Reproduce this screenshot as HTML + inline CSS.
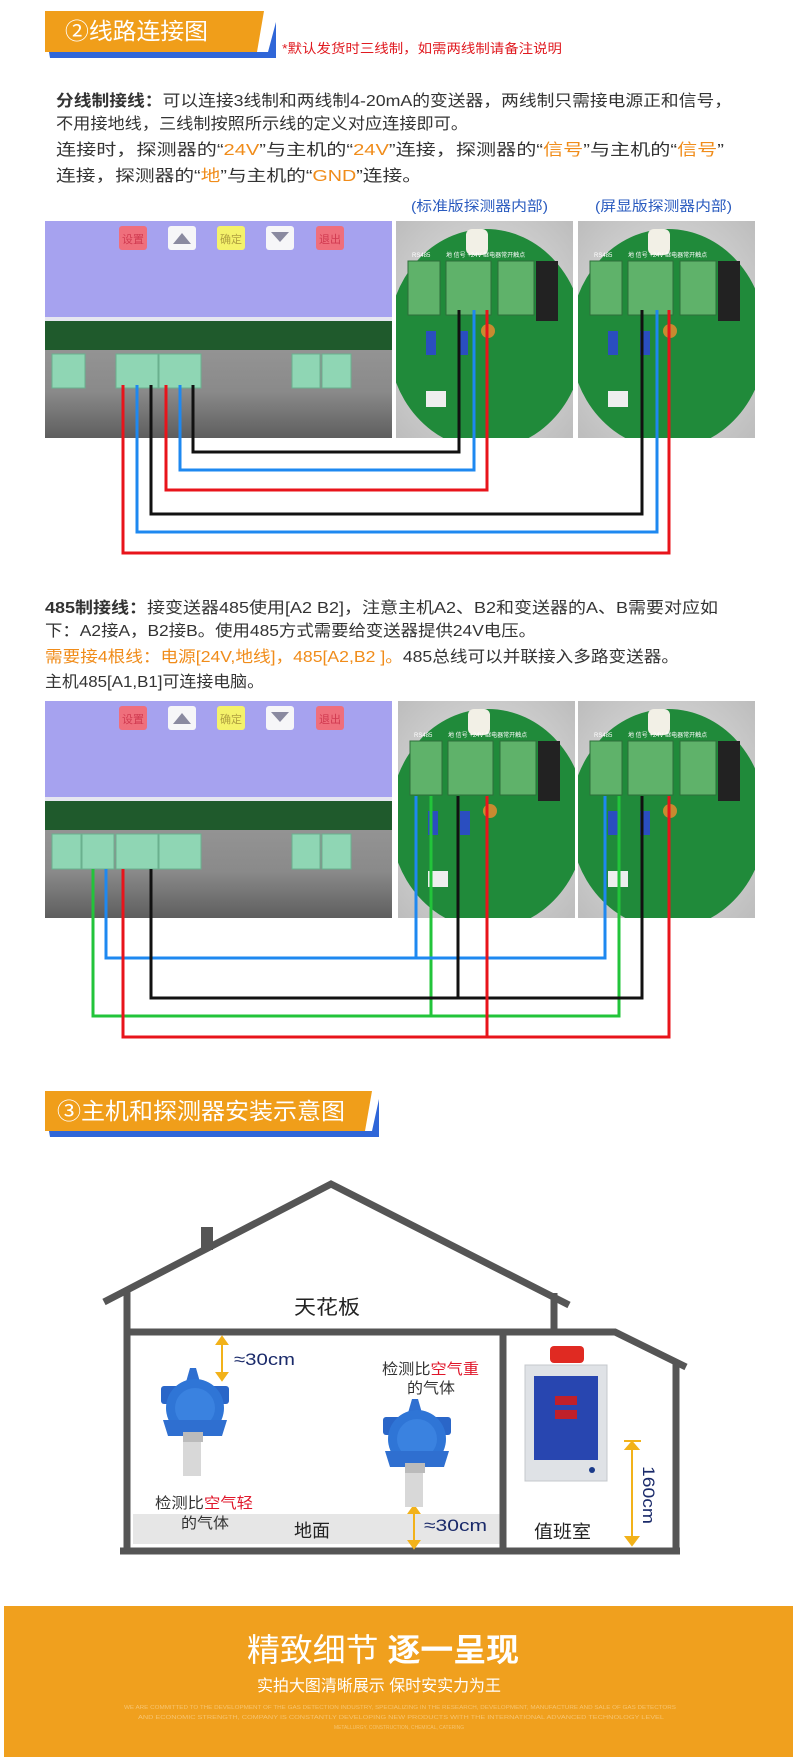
<!DOCTYPE html>
<html><head><meta charset="utf-8"><style>
html,body{margin:0;padding:0;background:#fff;}
svg{display:block;font-family:"Liberation Sans","Noto Sans CJK SC",sans-serif;}
</style></head><body>
<svg width="797" height="1757" viewBox="0 0 797 1757" xmlns="http://www.w3.org/2000/svg">
<defs>
<linearGradient id="gray" x1="0" y1="0" x2="0" y2="1"><stop offset="0" stop-color="#9a9a9a"/><stop offset="0.6" stop-color="#8a8a8a"/><stop offset="1" stop-color="#5e5e5e"/></linearGradient>
<radialGradient id="bgd" cx="0.5" cy="0.5" r="0.7"><stop offset="0" stop-color="#e8e8e8"/><stop offset="1" stop-color="#bdbdbd"/></radialGradient>
<clipPath id="dclip"><rect x="0" y="0" width="177" height="217"/></clipPath>
<g id="panel">
  <rect x="45" y="0" width="347" height="96" fill="#a6a2ef"/>
  <rect x="45" y="96" width="347" height="4" fill="#e6e6f0"/>
  <rect x="45" y="100" width="347" height="117" fill="url(#gray)"/>
  <rect x="45" y="100" width="347" height="29" fill="#1f5a2c"/>
  <rect x="119" y="5" width="28" height="24" rx="3" fill="#ef6f7c"/>
  <rect x="168" y="5" width="28" height="24" rx="3" fill="#f6f6f8"/><polygon points="173,23 182,12 191,23" fill="#8a8aa0"/>
  <rect x="217" y="5" width="28" height="24" rx="3" fill="#f4f26a"/>
  <rect x="266" y="5" width="28" height="24" rx="3" fill="#f6f6f8"/><polygon points="271,11 289,11 280,21" fill="#8a8aa0"/>
  <rect x="316" y="5" width="28" height="24" rx="3" fill="#ef6f7c"/>
  <text x="122" y="22" font-size="11" fill="#d03a50">设置</text>
  <text x="220" y="22" font-size="11" fill="#b0a040">确定</text>
  <text x="319" y="22" font-size="11" fill="#d03a50">退出</text>
</g>
<g id="det">
 <g clip-path="url(#dclip)">
  <rect x="0" y="0" width="177" height="217" fill="url(#bgd)"/>
  <ellipse cx="90" cy="118" rx="98" ry="110" fill="#208a3a"/>
  <rect x="70" y="8" width="22" height="26" rx="6" fill="#f2f0e6"/>
  <rect x="140" y="40" width="22" height="60" fill="#222"/>
  <rect x="12" y="40" width="32" height="54" fill="#5fb26a" stroke="#2e6e3a"/>
  <rect x="50" y="40" width="45" height="54" fill="#5fb26a" stroke="#2e6e3a"/>
  <rect x="102" y="40" width="36" height="54" fill="#5fb26a" stroke="#2e6e3a"/>
  <rect x="30" y="110" width="10" height="24" fill="#2a4ec0"/>
  <rect x="62" y="110" width="10" height="24" fill="#2a4ec0"/>
  <circle cx="92" cy="110" r="7" fill="#c88a30"/>
  <rect x="30" y="170" width="20" height="16" fill="#eee"/>
  <text x="16" y="36" font-size="6" fill="#fff">RS485</text>
  <text x="50" y="36" font-size="6" fill="#fff">地 信号 +24V 继电器常开触点</text>
 </g>
</g>
</defs>

<polygon points="49,52 268,52 276,22 276,58 50,58" fill="#2f66d8"/>
<polygon points="45,11 264,11 257,52 45,52" fill="#f09e1a"/>
<text x="65" y="39" font-size="23" fill="#fff" textLength="143" lengthAdjust="spacingAndGlyphs">②线路连接图</text>
<text x="282" y="53" font-size="13" fill="#e01a20" textLength="280" lengthAdjust="spacingAndGlyphs">*默认发货时三线制，如需两线制请备注说明</text>

<g font-size="16" fill="#333">
<text x="56" y="106" textLength="676" lengthAdjust="spacingAndGlyphs"><tspan font-weight="bold">分线制接线：</tspan>可以连接3线制和两线制4-20mA的变送器，两线制只需接电源正和信号，</text>
<text x="56" y="129" textLength="412" lengthAdjust="spacingAndGlyphs">不用接地线，三线制按照所示线的定义对应连接即可。</text>
<text x="56" y="155" textLength="668" lengthAdjust="spacingAndGlyphs">连接时，探测器的“<tspan fill="#f08c1a">24V</tspan>”与主机的“<tspan fill="#f08c1a">24V</tspan>”连接，探测器的“<tspan fill="#f08c1a">信号</tspan>”与主机的“<tspan fill="#f08c1a">信号</tspan>”</text>
<text x="56" y="181" textLength="366" lengthAdjust="spacingAndGlyphs">连接，探测器的“<tspan fill="#f08c1a">地</tspan>”与主机的“<tspan fill="#f08c1a">GND</tspan>”连接。</text>
</g>
<text x="411" y="211" font-size="14" fill="#2a5bbf" textLength="137" lengthAdjust="spacingAndGlyphs">(标准版探测器内部)</text>
<text x="595" y="211" font-size="14" fill="#2a5bbf" textLength="137" lengthAdjust="spacingAndGlyphs">(屏显版探测器内部)</text>

<use href="#panel" y="221"/>
<g fill="#8fd6b4" stroke="#6ab08e">
<rect x="52" y="354" width="33" height="34"/><rect x="116" y="354" width="42" height="34"/><rect x="159" y="354" width="42" height="34"/><rect x="292" y="354" width="28" height="34"/><rect x="322" y="354" width="29" height="34"/>
</g>
<use href="#det" x="396" y="221"/>
<use href="#det" x="578" y="221"/>
<g fill="none" stroke-width="3">
<polyline points="123,385 123,553 669,553 669,310" stroke="#e8141b"/>
<polyline points="137,385 137,532 657,532 657,310" stroke="#1e88f0"/>
<polyline points="151,385 151,514 642,514 642,310" stroke="#111"/>
<polyline points="166,385 166,490 487,490 487,310" stroke="#e8141b"/>
<polyline points="180,385 180,470 474,470 474,310" stroke="#1e88f0"/>
<polyline points="193,385 193,452 459,452 459,310" stroke="#111"/>
</g>

<g font-size="16" fill="#333">
<text x="45" y="613" textLength="673" lengthAdjust="spacingAndGlyphs"><tspan font-weight="bold">485制接线：</tspan>接变送器485使用[A2 B2]，注意主机A2、B2和变送器的A、B需要对应如</text>
<text x="45" y="636" textLength="491" lengthAdjust="spacingAndGlyphs">下：A2接A，B2接B。使用485方式需要给变送器提供24V电压。</text>
<text x="45" y="662" textLength="634" lengthAdjust="spacingAndGlyphs"><tspan fill="#f08c1a">需要接4根线：电源[24V,地线]，485[A2,B2 ]。</tspan>485总线可以并联接入多路变送器。</text>
<text x="45" y="687" textLength="219" lengthAdjust="spacingAndGlyphs">主机485[A1,B1]可连接电脑。</text>
</g>

<use href="#panel" y="701"/>
<g fill="#8fd6b4" stroke="#6ab08e">
<rect x="52" y="834" width="29" height="35"/><rect x="82" y="834" width="32" height="35"/><rect x="116" y="834" width="42" height="35"/><rect x="159" y="834" width="42" height="35"/><rect x="292" y="834" width="28" height="35"/><rect x="322" y="834" width="29" height="35"/>
</g>
<use href="#det" x="398" y="701"/>
<use href="#det" x="578" y="701"/>
<g fill="none" stroke-width="3">
<polyline points="93,869 93,1016 619,1016 619,796" stroke="#22c43a"/>
<line x1="431" y1="796" x2="431" y2="1016" stroke="#22c43a"/>
<polyline points="106,869 106,958 605,958 605,796" stroke="#1e88f0"/>
<line x1="416" y1="796" x2="416" y2="958" stroke="#1e88f0"/>
<polyline points="151,869 151,998 642,998 642,796" stroke="#111"/>
<line x1="458" y1="796" x2="458" y2="998" stroke="#111"/>
<polyline points="123,869 123,1037 669,1037 669,796" stroke="#e8141b"/>
<line x1="487" y1="796" x2="487" y2="1037" stroke="#e8141b"/>
</g>

<polygon points="49,1131 372,1131 379,1099 379,1137 50,1137" fill="#2f66d8"/>
<polygon points="45,1091 372,1091 365,1131 45,1131" fill="#f09e1a"/>
<text x="57" y="1119" font-size="23" fill="#fff" textLength="288" lengthAdjust="spacingAndGlyphs">③主机和探测器安装示意图</text>

<polygon points="133,1514 500,1514 500,1544 133,1544" fill="#e6e6e6"/>
<g fill="none" stroke="#555" stroke-width="7">
<polyline points="104,1302 331,1184 569,1305"/>
<line x1="127" y1="1291" x2="127" y2="1551"/>
<line x1="554" y1="1293" x2="554" y2="1332"/>
<polyline points="127,1332 615,1332 686,1367"/>
<line x1="676" y1="1362" x2="676" y2="1551"/>
<line x1="503" y1="1332" x2="503" y2="1551"/>
<line x1="120" y1="1551" x2="680" y2="1551"/>
</g>
<rect x="201" y="1227" width="12" height="23" fill="#555"/>
<text x="294" y="1314" font-size="20" fill="#222" textLength="66" lengthAdjust="spacingAndGlyphs">天花板</text>

<g stroke="#f2b21a" stroke-width="2" fill="#f2b21a">
<line x1="222" y1="1341" x2="222" y2="1376"/><polygon points="217,1344 222,1337 227,1344"/><polygon points="217,1373 222,1380 227,1373"/>
<line x1="414" y1="1510" x2="414" y2="1544"/><polygon points="409,1513 414,1506 419,1513"/><polygon points="409,1541 414,1548 419,1541"/>
<line x1="632" y1="1443" x2="632" y2="1543"/><line x1="624" y1="1441" x2="641" y2="1441"/><polygon points="626,1449 632,1442 638,1449"/><polygon points="626,1537 632,1545 638,1537"/>
</g>
<text x="234" y="1365" font-size="17" fill="#1a2a6a" textLength="61" lengthAdjust="spacingAndGlyphs">≈30cm</text>
<text x="424" y="1531" font-size="17" fill="#1a2a6a" textLength="63" lengthAdjust="spacingAndGlyphs">≈30cm</text>
<text transform="translate(643,1466) rotate(90)" font-size="17" fill="#1a2a6a" textLength="58" lengthAdjust="spacingAndGlyphs">160cm</text>

<g id="gd">
<rect x="183" y="1440" width="18" height="36" fill="#d8d8d8"/>
<polygon points="190,1368 196,1368 200,1382 186,1382" fill="#2f6fd0"/>
<rect x="161" y="1386" width="68" height="18" rx="3" fill="#2a66c8"/>
<circle cx="195" cy="1408" r="29" fill="#2f75d6"/>
<circle cx="195" cy="1408" r="20" fill="#3a82e0"/>
<polygon points="163,1420 227,1420 222,1436 168,1436" fill="#2f6fd0"/>
<rect x="183" y="1432" width="20" height="10" fill="#bbb"/>
</g>
<use href="#gd" x="222" y="31"/>
<text x="155" y="1508" font-size="15" fill="#333" textLength="98" lengthAdjust="spacingAndGlyphs">检测比<tspan fill="#e0162a">空气轻</tspan></text>
<text x="181" y="1528" font-size="15" fill="#333" textLength="48" lengthAdjust="spacingAndGlyphs">的气体</text>
<text x="382" y="1374" font-size="15" fill="#333" textLength="97" lengthAdjust="spacingAndGlyphs">检测比<tspan fill="#e0162a">空气重</tspan></text>
<text x="407" y="1393" font-size="15" fill="#333" textLength="48" lengthAdjust="spacingAndGlyphs">的气体</text>
<text x="294" y="1537" font-size="18" fill="#222" textLength="36" lengthAdjust="spacingAndGlyphs">地面</text>

<rect x="550" y="1346" width="34" height="17" rx="4" fill="#e02a22"/>
<rect x="525" y="1365" width="82" height="116" fill="#dfe2e6" stroke="#c4c8cc"/>
<rect x="534" y="1376" width="64" height="84" fill="#2846b0"/>
<rect x="555" y="1396" width="22" height="9" fill="#c0202a"/><rect x="555" y="1410" width="22" height="9" fill="#c0202a"/>
<circle cx="592" cy="1470" r="3" fill="#1a3a8a"/>
<text x="534" y="1538" font-size="18" fill="#222" textLength="57" lengthAdjust="spacingAndGlyphs">值班室</text>

<rect x="4" y="1606" width="789" height="151" fill="#f0a01e"/>
<text x="247" y="1661" font-size="32" fill="#fff" textLength="272" lengthAdjust="spacingAndGlyphs">精致细节 <tspan font-weight="bold">逐一呈现</tspan></text>
<text x="257" y="1691" font-size="16" fill="#fff" textLength="244" lengthAdjust="spacingAndGlyphs">实拍大图清晰展示 保时安实力为王</text>
<g font-size="5" fill="#f6c470">
<text x="124" y="1709" textLength="552" lengthAdjust="spacingAndGlyphs">WE ARE COMMITTED TO THE DEVELOPMENT OF THE GAS DETECTION INDUSTRY, SPECIALIZING IN THE RESEARCH, DEVELOPMENT, MANUFACTURE AND SALE OF GAS DETECTORS</text>
<text x="138" y="1719" textLength="526" lengthAdjust="spacingAndGlyphs">AND ECONOMIC STRENGTH, COMPANY IS CONSTANTLY DEVELOPING NEW PRODUCTS WITH THE INTERNATIONAL ADVANCED TECHNOLOGY LEVEL</text>
<text x="334" y="1729" textLength="130" lengthAdjust="spacingAndGlyphs">METALLURGY, CONSTRUCTION, CHEMICAL, CATERING</text>
</g>
</svg>
</body></html>
